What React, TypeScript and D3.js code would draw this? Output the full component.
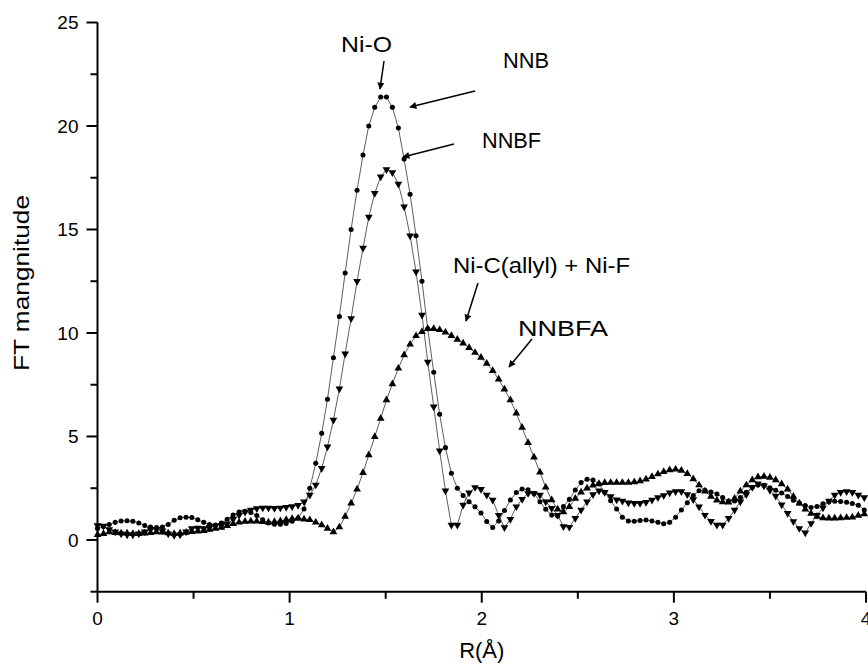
import React from "react";
import * as d3 from "d3";

// R grid (Å)
const R = [
  0, 0.031, 0.061, 0.092, 0.123, 0.154, 0.184, 0.215, 0.246, 0.276,
  0.307, 0.338, 0.368, 0.399, 0.43, 0.461, 0.491, 0.522, 0.553, 0.583,
  0.614, 0.645, 0.675, 0.706, 0.737, 0.768, 0.798, 0.829, 0.86, 0.89,
  0.921, 0.952, 0.982, 1.013, 1.044, 1.075, 1.105, 1.136, 1.167, 1.197,
  1.228, 1.259, 1.289, 1.32, 1.351, 1.382, 1.412, 1.443, 1.474, 1.504,
  1.535, 1.566, 1.596, 1.627, 1.658, 1.689, 1.719, 1.75, 1.781, 1.811,
  1.842, 1.873, 1.903, 1.934, 1.965, 1.996, 2.026, 2.057, 2.088, 2.118,
  2.149, 2.18, 2.21, 2.241, 2.272, 2.303, 2.333, 2.364, 2.395, 2.425,
  2.456, 2.487, 2.517, 2.548, 2.579, 2.61, 2.64, 2.671, 2.702, 2.732,
  2.763, 2.794, 2.824, 2.855, 2.886, 2.917, 2.947, 2.978, 3.009, 3.039,
  3.07, 3.101, 3.131, 3.162, 3.193, 3.224, 3.254, 3.285, 3.316, 3.346,
  3.377, 3.408, 3.438, 3.469, 3.5, 3.53, 3.561, 3.592, 3.622, 3.653,
  3.684, 3.714, 3.745, 3.776, 3.807, 3.837, 3.868, 3.899, 3.929, 3.96,
  3.991,
];

// NNB (filled circles)
const NNB = [
  0.55, 0.65, 0.75, 0.85, 0.92, 0.93, 0.9, 0.82, 0.7, 0.62,
  0.6, 0.63, 0.75, 0.95, 1.07, 1.1, 1.08, 0.98, 0.85, 0.75,
  0.72, 0.82, 1.0, 1.2, 1.35, 1.38, 1.33, 1.18, 0.98, 0.82,
  0.76, 0.76, 0.8, 0.9, 1.05, 1.5, 2.5, 3.7, 5.15, 6.8,
  8.8, 10.8, 12.9, 15.0, 16.9, 18.6, 20.0, 20.9, 21.4, 21.4,
  20.9, 19.9, 18.4, 16.7, 14.7, 12.5, 10.2, 8.1, 6.07, 4.46,
  3.22, 2.5, 2.15, 1.85, 1.6, 1.3, 0.89, 0.6, 0.92, 1.42,
  1.93, 2.29, 2.46, 2.43, 2.25, 1.85, 1.48, 1.2, 1.16, 1.61,
  1.96, 2.41, 2.77, 2.93, 2.9, 2.7, 2.3, 1.9, 1.5, 1.1,
  0.92, 0.9, 0.94, 0.96, 0.92, 0.85, 0.78, 0.85, 1.1, 1.45,
  1.8, 2.15, 2.38, 2.4, 2.32, 2.22, 2.05, 1.88, 1.88, 2.05,
  2.3, 2.55, 2.66, 2.64, 2.52, 2.4, 2.27, 2.1, 1.92, 1.78,
  1.66, 1.57, 1.62, 1.75, 1.84, 1.87, 1.86, 1.82, 1.76, 1.68,
  1.45,
];

// NNBF (down triangles)
const NNBF = [
  0.7, 0.68, 0.5, 0.4, 0.3, 0.25, 0.25, 0.3, 0.4, 0.5,
  0.52, 0.45, 0.3, 0.22, 0.25, 0.4, 0.55, 0.58, 0.55, 0.6,
  0.68, 0.7, 0.78, 1.0, 1.2, 1.35, 1.45, 1.52, 1.55, 1.55,
  1.53, 1.55, 1.58, 1.62, 1.68, 1.85, 2.17, 2.66, 3.46, 4.5,
  5.8, 7.3, 9.0, 10.7, 12.5, 14.1, 15.6, 16.75, 17.55, 17.9,
  17.75, 17.2, 16.1, 14.7, 12.96, 10.87, 8.6, 6.44, 4.31, 2.38,
  0.72, 0.72, 1.69, 2.28, 2.54, 2.45, 2.17, 1.93, 1.2, 0.6,
  1.0, 1.61, 1.97, 2.25, 2.25, 2.17, 1.85, 1.53, 1.2, 0.65,
  0.62, 1.05, 1.45, 1.85, 2.2, 2.38, 2.3, 2.1, 1.94, 1.88,
  1.8, 1.77, 1.77, 1.82, 1.93, 2.05, 2.15, 2.28, 2.34, 2.34,
  2.2, 1.95, 1.6, 1.2, 0.9, 0.72, 0.72, 1.05, 1.45, 1.85,
  2.2, 2.55, 2.72, 2.62, 2.4, 2.12, 1.7, 1.29, 0.89, 0.56,
  0.35, 0.8, 1.2, 1.55, 1.88, 2.17, 2.3, 2.34, 2.3, 2.17,
  2.05,
];

// NNBFA (up triangles)
const NNBFA = [
  0.25, 0.3, 0.38, 0.35, 0.33, 0.32, 0.3, 0.3, 0.32, 0.35,
  0.38, 0.37, 0.33, 0.3, 0.32, 0.36, 0.4, 0.42, 0.45, 0.5,
  0.55, 0.6, 0.68, 0.78, 0.85, 0.89, 0.9, 0.9, 0.88, 0.86,
  0.88, 0.92, 0.98, 1.02, 1.05, 1.0, 0.97, 0.85, 0.72, 0.55,
  0.38, 0.62, 1.13, 1.77, 2.45, 3.25, 4.1, 4.99, 5.87, 6.76,
  7.54, 8.29, 8.94, 9.45, 9.86, 10.06, 10.2, 10.2, 10.15, 10.03,
  9.87, 9.69, 9.5, 9.29, 9.05, 8.82, 8.53, 8.18, 7.76, 7.28,
  6.76, 6.12, 5.43, 4.7, 4.0, 3.27, 2.54, 1.93, 1.48, 1.35,
  1.6, 2.0, 2.3, 2.5, 2.64, 2.72, 2.76, 2.77, 2.77, 2.77,
  2.77, 2.8, 2.85, 2.93, 3.05, 3.18, 3.3, 3.38, 3.41, 3.36,
  3.2, 2.95, 2.65, 2.35, 2.1, 1.92, 1.83, 1.82, 2.0, 2.35,
  2.65, 2.9, 3.04, 3.07, 3.02, 2.9, 2.7, 2.45, 2.1, 1.77,
  1.48, 1.28, 1.13, 1.06, 1.05, 1.05, 1.06, 1.08, 1.1, 1.18,
  1.25,
];

const X_TICKS = [0, 1, 2, 3, 4];
const X_MINOR = [0.5, 1.5, 2.5, 3.5];
const Y_TICKS = [0, 5, 10, 15, 20, 25];
const Y_MINOR = [-2.5, 2.5, 7.5, 12.5, 17.5, 22.5];

const ANNOTATIONS = [
  { text: "Ni-O", tx: 341, ty: 52, w: 51, x1: 384, y1: 61, x2: 380, y2: 89 },
  { text: "NNB", tx: 503, ty: 68, w: 46, x1: 475, y1: 91, x2: 410, y2: 107 },
  { text: "NNBF", tx: 482, ty: 148, w: 59, x1: 454, y1: 144, x2: 403, y2: 157 },
  { text: "Ni-C(allyl) + Ni-F", tx: 453, ty: 273, w: 177, x1: 478, y1: 283, x2: 466, y2: 321 },
  { text: "NNBFA", tx: 518, ty: 336, w: 90, x1: 532, y1: 339, x2: 509, y2: 367 },
];

const W = 868;
const H = 664;
const FONT = "'Liberation Sans', Arial, Helvetica, sans-serif";

export default function App() {
  const x = d3.scaleLinear().domain([0, 4]).range([97.5, 866]);
  const y = d3.scaleLinear().domain([-2.5, 25]).range([591.7, 22.5]);

  const line = d3
    .line<number>()
    .x((_, i) => x(R[i]))
    .y((d) => y(d));

  const triUp = d3.symbol().type(d3.symbolTriangle).size(26)() as string;
  const circ = d3.symbol().type(d3.symbolCircle).size(20)() as string;

  const series = [
    { name: "NNB", data: NNB, shape: circ, rot: 0 },
    { name: "NNBF", data: NNBF, shape: triUp, rot: 180 },
    { name: "NNBFA", data: NNBFA, shape: triUp, rot: 0 },
  ];

  const x0 = x(0);
  const yBase = y(-2.5);

  return (
    <svg
      width={W}
      height={H}
      style={{ position: "absolute", left: 0, top: 0, background: "#fff" }}
      fontFamily={FONT}
    >
      <defs>
        <marker
          id="ah"
          viewBox="0 0 10 10"
          refX="9"
          refY="5"
          markerWidth="9"
          markerHeight="7"
          markerUnits="userSpaceOnUse"
          orient="auto"
        >
          <path d="M0,0 L10,5 L0,10 z" fill="#000" />
        </marker>
      </defs>

      {/* series */}
      {series.map((s) => (
        <g key={s.name}>
          <path d={line(s.data) || ""} fill="none" stroke="#333" strokeWidth={0.8} />
          {s.data.map((v, i) => (
            <path
              key={i}
              d={s.shape}
              transform={`translate(${x(R[i])},${y(v)}) rotate(${s.rot})`}
              fill="#000"
            />
          ))}
        </g>
      ))}

      {/* y axis */}
      <line x1={x0} x2={x0} y1={y(25)} y2={yBase} stroke="#000" strokeWidth={2} />
      {Y_TICKS.map((t) => (
        <g key={"yt" + t}>
          <line x1={x0 - 11} x2={x0} y1={y(t)} y2={y(t)} stroke="#000" strokeWidth={2} />
          <text x={x0 - 19} y={y(t)} dy="0.35em" textAnchor="end" fontSize={19}>
            {t}
          </text>
        </g>
      ))}
      {Y_MINOR.map((t) => (
        <line key={"ym" + t} x1={x0 - 7} x2={x0} y1={y(t)} y2={y(t)} stroke="#000" strokeWidth={2} />
      ))}

      {/* x axis */}
      <line x1={x0} x2={x(4)} y1={yBase} y2={yBase} stroke="#000" strokeWidth={2} />
      {X_TICKS.map((t) => (
        <g key={"xt" + t}>
          <line x1={x(t)} x2={x(t)} y1={yBase} y2={yBase + 11} stroke="#000" strokeWidth={2} />
          <text x={x(t)} y={yBase + 33} textAnchor="middle" fontSize={19}>
            {t}
          </text>
        </g>
      ))}
      {X_MINOR.map((t) => (
        <line key={"xm" + t} x1={x(t)} x2={x(t)} y1={yBase} y2={yBase + 7} stroke="#000" strokeWidth={2} />
      ))}

      {/* axis titles */}
      <text x={x(2)} y={658} textAnchor="middle" fontSize={22}>
        R(Å)
      </text>
      <text
        transform={`translate(29,${283}) rotate(-90)`}
        textAnchor="middle"
        fontSize={22}
        textLength={176}
        lengthAdjust="spacingAndGlyphs"
      >
        FT mangnitude
      </text>

      {/* annotations */}
      {ANNOTATIONS.map((a) => (
        <g key={a.text}>
          <text
            x={a.tx}
            y={a.ty}
            fontSize={22}
            textLength={a.w}
            lengthAdjust="spacingAndGlyphs"
          >
            {a.text}
          </text>
          <line
            x1={a.x1}
            y1={a.y1}
            x2={a.x2}
            y2={a.y2}
            stroke="#000"
            strokeWidth={1.5}
            markerEnd="url(#ah)"
          />
        </g>
      ))}
    </svg>
  );
}
